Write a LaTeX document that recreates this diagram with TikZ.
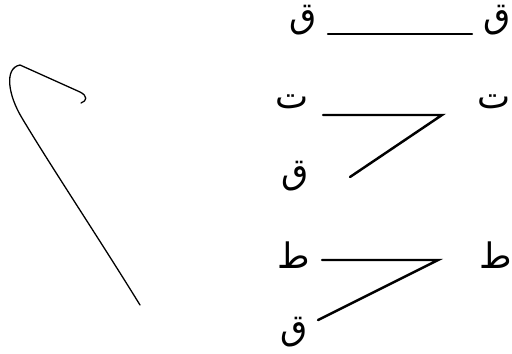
\documentclass[tikz,border=0pt]{standalone}
\usepackage{fontspec}
\newfontfamily\arabicfont[Script=Arabic]{DejaVu Sans}
\TeXXeTstate=1
\usetikzlibrary{calc}

\begin{document}
\begin{tikzpicture}[
    x=0.03cm, y=-0.03cm,
    % Estilos
    letter/.style={inner sep=0pt, font=\arabicfont\fontsize{30}{34}\selectfont},
    link/.style={line width=2.1pt, line cap=round},
    hand/.style={line width=1.1pt, line cap=round, line join=round}
]
\useasboundingbox (0,0) rectangle (512,353);

% -------------------------
% TRAZO A MANO (Izquierda)
% -------------------------
\draw[hand] (140,305) .. controls (100,240) and (50,165) .. (22,118)
    .. controls (8,95) and (4,68) .. (20,65) -- (80,92)
    .. controls (88,96) and (87,101) .. (81,103);

% -------------------------
% FILA 1
% -------------------------
\node[letter] (q1l) at (303,20) {\beginR ق\endR};
\node[letter] (q1r) at (497,20) {\beginR ق\endR};
\coordinate (a1) at (328,34);
\coordinate (b1) at (472,34);
\draw[link] (a1) -- (b1);

% -------------------------
% FILA 2
% -------------------------
\node[letter] (t2l) at (292,102) {\beginR ت\endR};
\node[letter] (t2r) at (494,102) {\beginR ت\endR};
\node[letter] (q2) at (295,176) {\beginR ق\endR};
\coordinate (a2) at (323,115);
\coordinate (bend2) at (442,115);
\coordinate (c2) at (350,177);
\draw[link] (a2) -- (bend2) -- (c2);

% -------------------------
% FILA 3
% -------------------------
\node[letter] (t3l) at (294,255) {\beginR ط\endR};
\node[letter] (t3r) at (496,255) {\beginR ط\endR};
\node[letter] (q3) at (294,332) {\beginR ق\endR};
\coordinate (a3) at (322,260);
\coordinate (bend3) at (438,260);
\coordinate (c3) at (318,320);
\draw[link] (a3) -- (bend3) -- (c3);

\end{tikzpicture}
\end{document}
